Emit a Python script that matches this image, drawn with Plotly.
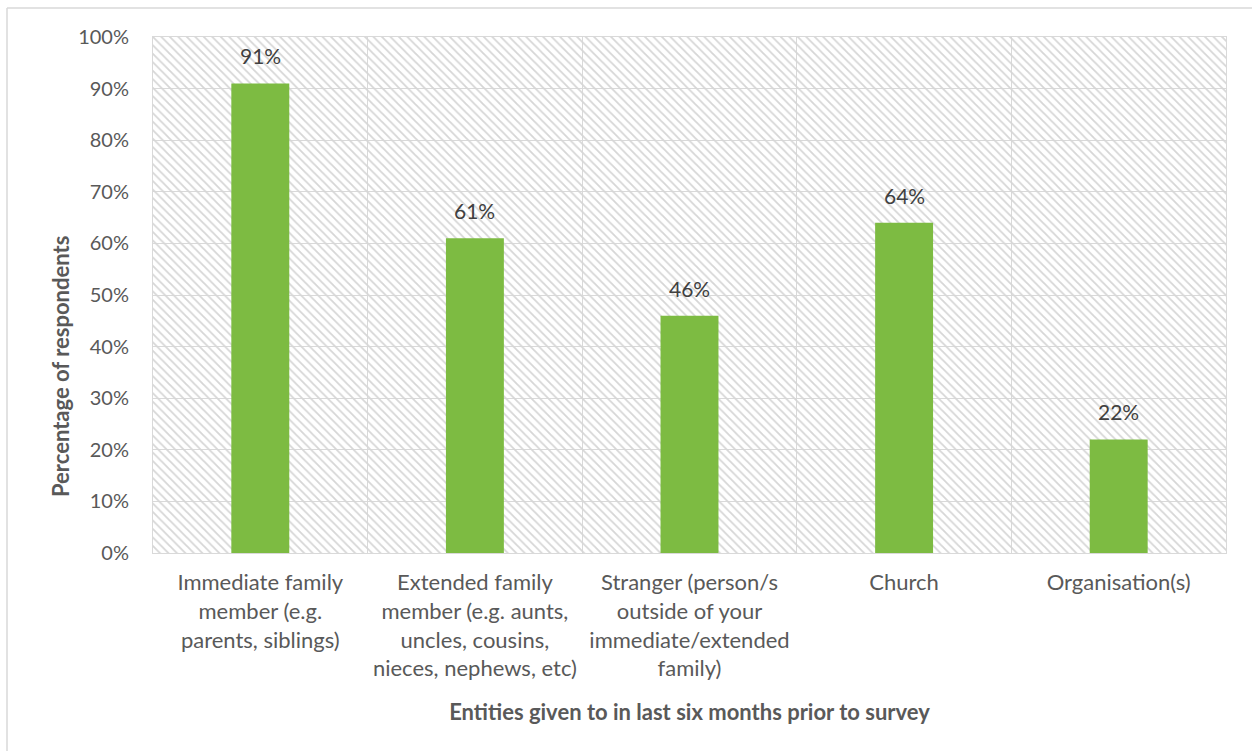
import plotly.graph_objects as go

# Survey results: share of respondents who gave to each entity
categories = [
    "Immediate family<br>member (e.g.<br>parents, siblings)",
    "Extended family<br>member (e.g. aunts,<br>uncles, cousins,<br>nieces, nephews, etc)",
    "Stranger (person/s<br>outside of your<br>immediate/extended<br>family)",
    "Church",
    "Organisation(s)",
]
values = [91, 61, 46, 64, 22]
y_ticks = list(range(0, 101, 10))
y_tick_labels = [f"{v}%" for v in y_ticks]

FONT = "Lato, 'Open Sans', sans-serif"
TEXT = "#595959"
GRID = "#d9d9d9"
GREEN = "#7dbb42"

W, H = 1252, 751
L, R, T, B = 153, 26, 37, 198
PW, PH = W - L - R, H - T - B

fig = go.Figure()

# Hatched plot-area background (base axis spanning the whole plot width)
fig.add_trace(go.Bar(
    x=[0.5], y=[100], width=[1], xaxis="x", yaxis="y",
    marker=dict(color="rgba(0,0,0,0)", line=dict(width=0),
                pattern=dict(shape="\\", fgcolor="#d6d6d6", bgcolor="rgba(0,0,0,0)",
                             size=6, solidity=0.3, fillmode="replace")),
    hoverinfo="skip", showlegend=False,
))

# Data bars
fig.add_trace(go.Bar(
    x=categories, y=values, xaxis="x2", yaxis="y",
    marker=dict(color=GREEN, line=dict(width=0)),
    showlegend=False,
))

# Value labels above each bar
for cat, v in zip(categories, values):
    fig.add_annotation(
        x=cat, y=v, xref="x2", yref="y", text=f"{v}%", showarrow=False,
        yanchor="bottom", yshift=13,
        font=dict(family=FONT, size=21, color="#404040"),
    )

# Vertical axis title, centred on the whole chart area
fig.add_annotation(
    x=(60 - L) / PW, y=(H - B - 367) / PH, xref="paper", yref="paper",
    text="<b>Percentage of respondents</b>", textangle=-90, showarrow=False,
    xanchor="center", yanchor="middle",
    font=dict(family=FONT, size=22, color=TEXT),
)

fig.update_layout(
    width=W, height=H,
    margin=dict(l=L, r=R, t=T, b=B, autoexpand=False),
    paper_bgcolor="white", plot_bgcolor="white",
    bargap=0.73,
    font=dict(family=FONT, color=TEXT, size=20),
    xaxis=dict(range=[0, 1], visible=False, showgrid=False, fixedrange=True),
    xaxis2=dict(
        overlaying="x", anchor="y", side="bottom", type="category",
        tickson="boundaries", showgrid=True, gridcolor=GRID, gridwidth=1,
        showline=True, linecolor=GRID, linewidth=1, mirror=True,
        ticks="", ticklabelstandoff=10,
        tickfont=dict(family=FONT, size=22, color=TEXT),
        title=dict(text="<b>Entities given to in last six months prior to survey</b>",
                   font=dict(family=FONT, size=22, color=TEXT), standoff=24),
    ),
    yaxis=dict(
        range=[0, 100], tickvals=y_ticks, ticktext=y_tick_labels,
        showgrid=True, gridcolor=GRID, gridwidth=1, zeroline=False,
        showline=True, linecolor=GRID, mirror=True,
        ticks="", ticklabelstandoff=19,
        tickfont=dict(family=FONT, size=20, color=TEXT),
    ),
)

# Chart-area frame along the top and left edges
fig.add_shape(type="line", xref="paper", yref="paper",
              x0=(7 - L) / PW, x1=(W + 10 - L) / PW,
              y0=(H - B - 8) / PH, y1=(H - B - 8) / PH,
              line=dict(color=GRID, width=1.5))
fig.add_shape(type="line", xref="paper", yref="paper",
              x0=(7 - L) / PW, x1=(7 - L) / PW,
              y0=(H - B - 8) / PH, y1=-(B + 10) / PH,
              line=dict(color=GRID, width=1.5))

fig.write_html("out.html")
